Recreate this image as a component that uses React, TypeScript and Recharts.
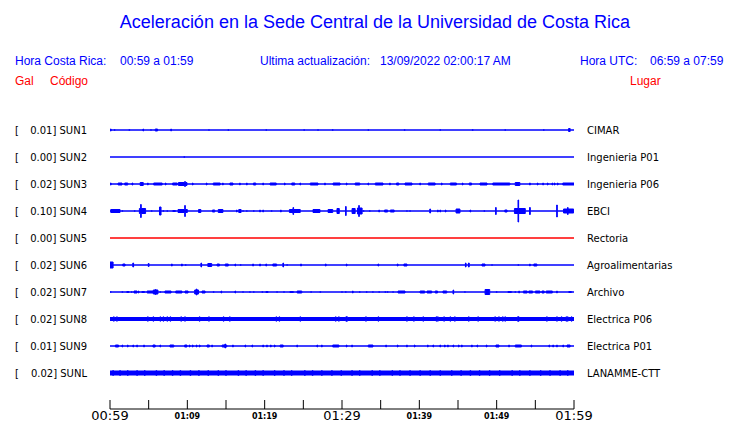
import React from "react";
import { ComposedChart, XAxis, YAxis, Area } from "recharts";

// ---- station table ----
const GAL = ["0.01", "0.00", "0.02", "0.10", "0.00", "0.02", "0.02", "0.02", "0.01", "0.02"];
const CODES = ["SUN1", "SUN2", "SUN3", "SUN4", "SUN5", "SUN6", "SUN7", "SUN8", "SUN9", "SUNL"];
const PLACES = [
  "CIMAR",
  "Ingenieria P01",
  "Ingenieria P06",
  "EBCI",
  "Rectoria",
  "Agroalimentarias",
  "Archivo",
  "Electrica P06",
  "Electrica P01",
  "LANAMME-CTT",
];

// ---- time axis (minutes after 00:59) ----
const TICK_MINUTES = [0, 5, 10, 15, 20, 25, 30, 35, 40, 45, 50, 55, 60];
const TICK_LABELS = ["00:59", "", "01:09", "", "01:19", "", "01:29", "", "01:39", "", "01:49", "", "01:59"];
const MAJOR_LABELS = ["00:59", "01:29", "01:59"];

// ---- background noise level of each trace ----
const NOISE = [0, 0, 0, 0, 0, 0, 0, 2, 0, 2.5];

// ---- bursts per trace: [minute, duration (min), half amplitude] ----
const EV_SUN1 = [
  [0.1, 0.1, 1.5], [0.6, 0, 1], [2.5, 0, 1], [4.3, 0, 1.5], [5.3, 0, 1], [6.0, 0.3, 1.5],
  [7.9, 0, 1.5], [12.8, 0, 1], [15.3, 0, 1], [20.2, 0, 1], [25.1, 0, 1], [26.9, 0, 1],
  [28.8, 0, 1], [33.4, 0, 1], [38.1, 0, 1], [42.7, 0, 1], [46.9, 0, 1], [51.1, 0, 1],
  [56.1, 0, 1], [59.4, 0.2, 2],
];
const EV_SUN2 = [[9.6, 0, 1]];
const EV_SUN3 = [
  [0.1, 0.1, 1.5], [1.3, 0.5, 1.5], [2.1, 0.4, 1.5], [2.9, 0.1, 1.5], [4.1, 0.4, 2], [4.9, 0, 1.5],
  [6.2, 1.1, 1.5], [7.2, 0, 1.5], [8.4, 0.6, 1.5], [9.4, 1.1, 2], [9.7, 0, 3], [10.7, 0, 1.5],
  [12.5, 0, 1.5], [13.8, 0.9, 1.5], [14.6, 0, 1.5], [15.7, 0.4, 1.5], [16.8, 0, 1.5], [17.7, 0, 1.5],
  [18.7, 0.3, 1.5], [19.8, 0, 1.5], [21.1, 0.8, 1.5], [22.6, 0, 1.5], [23.7, 0.4, 1.5], [24.6, 0, 1.5],
  [26.4, 1.0, 1.5], [27.8, 0, 1.5], [29.3, 0.9, 1.5], [30.6, 0, 1.5], [32.0, 0.6, 1.5], [33.4, 0, 1.5],
  [34.8, 1.0, 1.5], [36.2, 0, 1.5], [37.2, 0.3, 1.5], [38.6, 0.9, 1.5], [40.1, 0, 1.5], [41.6, 0.9, 1.5],
  [42.9, 0, 1.5], [44.4, 0.8, 1.5], [45.6, 0, 1.5], [46.6, 0.3, 1.5], [48.3, 0.9, 1.5], [50.6, 2.2, 1.5],
  [52.7, 0.6, 2], [54.3, 0.1, 1.5], [55.3, 0, 1.5], [56.0, 0, 1.5], [56.6, 0, 1.5], [57.2, 0, 1.5],
  [57.5, 0, 1.5], [57.9, 0, 1.5], [59.3, 1.5, 1.5],
];
const EV_SUN4 = [
  [0.7, 1.2, 2], [1.6, 0, 1], [3.2, 0, 1], [4.2, 0.8, 3], [4.0, 0, 7], [5.4, 0, 1], [6.5, 0.2, 4.5],
  [6.9, 0, 1], [7.4, 0, 1], [8.3, 0.4, 1], [9.4, 1.2, 2], [9.7, 0, 6], [11.6, 0.3, 2], [13.4, 0.3, 1.5],
  [14.3, 0.6, 2], [16.4, 0, 1.5], [16.8, 0.3, 2], [17.2, 0, 1], [17.7, 0, 1], [18.6, 0, 1],
  [19.4, 0, 1.5], [19.8, 0, 1.5], [20.9, 0, 1], [22.1, 0, 1.5], [23.9, 1.4, 2], [23.7, 0, 4],
  [26.7, 0.9, 2], [28.5, 0.6, 2], [29.5, 0.3, 3], [30.5, 0, 5], [31.5, 0.4, 3], [32.3, 0.6, 3.5],
  [32.2, 0, 6], [32.8, 0, 1], [33.6, 0, 1], [34.8, 0, 1.5], [35.7, 0.4, 1.5], [36.5, 0.5, 1.5],
  [38.4, 0, 1], [38.8, 0, 1], [41.4, 0.1, 2.5], [42.4, 0, 1.5], [42.7, 0, 1.5], [43.4, 0, 1.5],
  [45.0, 0.5, 2.5], [46.6, 0, 1.5], [48.4, 0, 1], [49.9, 0, 4], [51.2, 0.3, 1.5], [53.0, 1.4, 3],
  [52.8, 0, 11.5], [54.3, 0.1, 4], [57.8, 0, 6.5], [59.3, 1.3, 2.5], [59.2, 0, 4],
];
const EV_SUN5: number[][] = [];
const EV_SUN6 = [
  [0.2, 0.4, 3.5], [1.8, 0.3, 1.5], [3.0, 0.1, 2.5], [5.0, 0.1, 2], [8.0, 0.1, 1.5], [9.3, 0.1, 1.5],
  [9.8, 0, 1], [11.8, 0, 2.5], [12.9, 0.5, 2], [14.0, 0.3, 1.5], [15.1, 0.4, 1.5], [16.2, 0, 1.5],
  [16.9, 0, 1], [18.5, 0.1, 1.5], [19.4, 0.1, 1.5], [20.2, 0.1, 1.5], [21.3, 0.5, 1.5], [22.4, 0, 2.5],
  [22.9, 0, 1], [24.7, 0.1, 1.5], [27.9, 0.1, 1.5], [30.6, 0, 1.5], [34.7, 0.1, 1.5], [37.2, 0.1, 1.5],
  [38.2, 0.4, 1.5], [46.0, 0, 2.5], [46.4, 0.1, 2.5], [48.3, 0.4, 1.5], [49.4, 0, 1], [52.8, 0, 1],
  [54.3, 0, 1.5], [55.0, 0.4, 1.5],
];
const EV_SUN7 = [
  [0.1, 0, 1], [1.6, 0, 1], [2.3, 0.3, 1], [2.8, 0, 1], [3.3, 0.4, 1.5], [3.7, 0, 1.5], [4.3, 0.4, 1],
  [5.2, 0.8, 1.5], [5.9, 0.6, 2.5], [5.9, 0, 3], [6.5, 0, 1], [7.5, 0.8, 1.5], [8.9, 0.8, 1.5],
  [9.9, 0.4, 1.5], [11.2, 0.5, 2.5], [11.2, 0, 3.5], [12.1, 0.4, 1.5], [13.4, 0, 1], [14.4, 0, 1.5],
  [16.2, 0, 1.5], [17.2, 0, 1], [18.1, 0, 1], [18.6, 0, 1], [19.7, 0, 1], [20.3, 0.3, 1], [21.6, 0, 1],
  [22.5, 0, 1], [23.5, 0.5, 1], [24.5, 0.6, 1.5], [26.0, 0, 1], [27.2, 0, 1], [30.0, 0, 1], [30.5, 0, 1],
  [31.4, 0, 1.5], [32.3, 0, 1], [33.2, 0, 1], [34.0, 0, 1], [34.8, 0, 1], [35.6, 0, 1], [35.9, 0, 1],
  [36.6, 0, 1], [37.7, 0.9, 1.5], [40.4, 0.6, 1.5], [41.3, 0.6, 1.5], [42.2, 0.3, 1.5], [43.3, 0.5, 1.5],
  [44.4, 0, 2.5], [45.9, 0, 1], [48.8, 0.6, 3], [50.0, 0, 1], [51.7, 0.5, 1], [52.4, 0, 1],
  [52.9, 0, 1.5], [53.7, 0.5, 1.5], [54.4, 0.5, 1.5], [55.3, 0.6, 1.5], [56.0, 0.3, 1.5],
  [56.8, 0.8, 1.5], [57.8, 0, 1.5], [59.5, 0.4, 1],
];
const EV_SUN8 = [
  [0.5, 0, 2.7], [0.9, 0, 2.7], [4.9, 0, 2.7], [5.6, 0, 2.7], [6.5, 0, 2.7], [6.9, 0, 2.7],
  [7.4, 0, 2.7], [7.8, 0, 2.7], [9.2, 0, 2.7], [9.7, 0, 2.7], [11.6, 0, 2.7], [12.8, 0, 2.7],
  [14.7, 0, 2.7], [15.5, 0, 2.7], [21.5, 0, 2.7], [21.9, 0, 2.7], [24.6, 0, 2.7], [29.2, 0, 2.7],
  [29.6, 0, 2.7], [30.6, 0.2, 2.7], [33.1, 0, 2.7], [34.7, 0, 2.7], [38.4, 0, 2.7], [39.3, 0, 2.7],
  [40.5, 0, 2.7], [42.2, 0, 2.7], [42.4, 0, 2.7], [43.2, 0, 2.7], [44.0, 0, 2.7], [44.6, 0, 2.7],
  [46.4, 0, 2.7], [47.6, 0, 2.7], [49.8, 0, 2.7], [50.3, 0, 2.7], [50.8, 0, 2.7], [51.1, 0, 2.7],
  [52.8, 0.2, 2.7], [56.5, 0, 2.7], [57.8, 0, 2.7], [58.4, 0, 2.7], [59.0, 0, 2.7], [59.2, 0, 2.7],
  [59.7, 0, 2.7],
];
const EV_SUN9 = [
  [0.9, 0.4, 1.5], [1.6, 0, 1.5], [2.3, 0, 1.5], [3.0, 0, 1.5], [3.5, 0, 1.5], [4.4, 0, 1.5],
  [5.7, 0.3, 1.5], [6.5, 0, 1.5], [8.0, 0.5, 1.5], [9.8, 0.3, 1.5], [10.3, 0, 1.5], [10.7, 0, 1.5],
  [11.2, 0, 1.5], [11.6, 0, 1.5], [12.7, 0.3, 1.5], [13.2, 0, 1.5], [14.8, 0.6, 1.5], [14.9, 0, 2.5],
  [15.9, 0, 1.5], [17.5, 0, 1.5], [18.4, 0, 1.5], [19.8, 0, 1.5], [20.3, 0, 1.5], [20.8, 0, 1.5],
  [21.3, 0, 1.5], [22.2, 0.4, 1.5], [24.2, 0, 1.5], [26.8, 0, 1.5], [27.4, 0, 1.5], [29.2, 0.8, 1.5],
  [30.6, 0, 1.5], [31.3, 0, 1.5], [33.7, 0.6, 1.5], [35.7, 0, 1.5], [37.2, 0, 1.5], [38.4, 0, 1.5],
  [39.4, 0, 1.5], [41.1, 0, 1.5], [41.8, 0, 1.5], [42.7, 0, 1.5], [43.3, 0, 1.5], [43.7, 0, 1.5],
  [44.4, 0, 1.5], [45.1, 0, 1.5], [45.5, 0, 1.5], [46.8, 0, 1.5], [47.5, 0, 1.5], [48.7, 0, 1.5],
  [50.1, 0.4, 1.5], [51.6, 0, 1.5], [52.8, 0.8, 1.5], [54.5, 0, 1.5], [56.8, 0, 1.5], [57.3, 0, 1.5],
  [57.8, 0, 1.5], [58.6, 0, 1.5], [59.3, 0.4, 1.5],
];
const EV_SUNL = [
  [0.4, 0, 3], [1.3, 0, 3], [2.3, 0, 3], [3.5, 0, 3], [4.5, 0, 3], [6.0, 0, 3], [7.0, 0, 3],
  [8.1, 0, 3], [9.1, 0, 3], [10.4, 0, 3], [11.5, 0, 3], [12.7, 0, 3], [14.0, 0, 3], [15.0, 0, 3],
  [16.6, 0, 3], [17.6, 0, 3], [18.8, 0, 3], [19.8, 0, 3], [21.3, 0, 3], [22.5, 0, 3], [23.5, 0, 3],
  [25.2, 0, 3], [26.2, 0, 3], [27.4, 0, 3], [28.7, 0, 3], [29.9, 0, 3], [31.3, 0, 3], [32.3, 0, 3],
  [33.9, 0, 3], [34.9, 0, 3], [36.5, 0, 3], [37.5, 0, 3], [38.8, 0, 3], [40.1, 0, 3], [41.4, 0, 3],
  [42.7, 0, 3], [44.2, 0, 3], [45.4, 0, 3], [46.6, 0, 3], [47.8, 0, 3], [49.1, 0, 3], [50.4, 0, 3],
  [52.0, 0, 3], [53.0, 0, 3], [54.3, 0, 3], [55.7, 0, 3], [56.9, 0, 3], [58.2, 0, 3], [59.2, 0, 3],
];
const EVENTS = [EV_SUN1, EV_SUN2, EV_SUN3, EV_SUN4, EV_SUN5, EV_SUN6, EV_SUN7, EV_SUN8, EV_SUN9, EV_SUNL];

// ---- styling / layout ----
const BLUE = "#0000FF";
const RED = "#FF0000";
const TRACE_COLORS = CODES.map((c) => (c === "SUN5" ? RED : BLUE));
const ROW_PX = 27;
const N = CODES.length;
const ROW_BASES = CODES.map((_, i) => N - i); // SUN1 at top
const LABEL_FONT = "'DejaVu Sans', sans-serif";
const HEAD_FONT = "'Liberation Sans', Arial, sans-serif";

function buildTrace(base: number, noise: number, events: number[][]) {
  const MIN_HALF = 0.04;
  const ivs = events.map(([t, w, a]) => {
    const hw = Math.max(w / 2, MIN_HALF);
    return [Math.max(0, t - hw), Math.min(60, t + hw), a];
  });
  const cutSet = new Set<number>([0, 60]);
  ivs.forEach(([s, e]) => {
    cutSet.add(+s.toFixed(4));
    cutSet.add(+e.toFixed(4));
  });
  const cuts = Array.from(cutSet).sort((a, b) => a - b);
  const pts: { t: number; r: [number, number] }[] = [];
  for (let k = 0; k < cuts.length - 1; k++) {
    const c0 = cuts[k];
    const c1 = cuts[k + 1];
    const mid = (c0 + c1) / 2;
    let amp = noise;
    ivs.forEach(([s, e, a]) => {
      if (mid >= s && mid <= e && a > amp) amp = a;
    });
    const h = Math.max(amp - 0.5, 0) / ROW_PX; // stroke adds half a pixel on each side
    pts.push({ t: c0, r: [base - h, base + h] });
    pts.push({ t: c1, r: [base - h, base + h] });
  }
  return pts;
}

const TRACES = CODES.map((code, i) => ({
  code,
  color: TRACE_COLORS[i],
  data: buildTrace(ROW_BASES[i], NOISE[i], EVENTS[i]),
}));

const LeftTick = (props: any) => {
  const { y, payload } = props;
  const i = N - payload.value;
  if (i < 0 || i >= N) return null;
  return (
    <g fontFamily={LABEL_FONT} fontSize={10} fill="#000">
      <text x={15} y={y} dy="0.35em" textAnchor="start">[</text>
      <text x={87} y={y} dy="0.35em" textAnchor="end">{`${GAL[i]}] ${CODES[i]}`}</text>
    </g>
  );
};

const RightTick = (props: any) => {
  const { y, payload } = props;
  const i = N - payload.value;
  if (i < 0 || i >= N) return null;
  return (
    <text x={587} y={y} dy="0.35em" fontFamily={LABEL_FONT} fontSize={10} fill="#000">
      {PLACES[i]}
    </text>
  );
};

const XTick = (props: any) => {
  const { x, y, payload } = props;
  const idx = TICK_MINUTES.indexOf(payload.value);
  const label = idx >= 0 ? TICK_LABELS[idx] : "";
  const major = MAJOR_LABELS.includes(label);
  return (
    <g>
      <line x1={x} x2={x} y1={y} y2={y - 9} stroke="#000" strokeWidth={1} />
      {label && (
        <text
          x={x}
          y={major ? y + 11 : y + 10}
          textAnchor="middle"
          fontFamily={LABEL_FONT}
          fontSize={major ? 13 : 8}
          fontWeight={major ? "normal" : "bold"}
          fill="#000"
        >
          {label}
        </text>
      )}
    </g>
  );
};

export default function App() {
  return (
    <div style={{ position: "absolute", left: 0, top: 0, width: 740, height: 423, background: "#fff" }}>
      <ComposedChart width={740} height={423} margin={{ top: 103, right: 0, bottom: 0, left: 0 }}>
        <XAxis
          type="number"
          dataKey="t"
          domain={[0, 60]}
          ticks={TICK_MINUTES}
          allowDataOverflow
          height={14}
          tickSize={0}
          tickMargin={0}
          tickLine={false}
          axisLine={{ stroke: "#000", strokeWidth: 1 }}
          tick={XTick}
          interval={0}
        />
        <YAxis
          yAxisId="left"
          type="number"
          domain={[-1 / 3, N + 1]}
          ticks={ROW_BASES}
          allowDataOverflow
          width={110}
          axisLine={false}
          tickLine={false}
          tick={LeftTick}
          interval={0}
        />
        <YAxis
          yAxisId="right"
          orientation="right"
          type="number"
          domain={[-1 / 3, N + 1]}
          ticks={ROW_BASES}
          allowDataOverflow
          width={166}
          axisLine={false}
          tickLine={false}
          tick={RightTick}
          interval={0}
        />
        {TRACES.map((tr) => (
          <Area
            key={tr.code}
            yAxisId="left"
            data={tr.data}
            dataKey="r"
            type="linear"
            stroke={tr.color}
            strokeWidth={1}
            fill={tr.color}
            fillOpacity={1}
            dot={false}
            activeDot={false}
            isAnimationActive={false}
          />
        ))}
      </ComposedChart>
      <svg width={740} height={423} style={{ position: "absolute", left: 0, top: 0, pointerEvents: "none" }}>
        <g fontFamily={HEAD_FONT}>
          <text x={375} y={28} textAnchor="middle" fontSize={18} fill={BLUE}>
            Aceleración en la Sede Central de la Universidad de Costa Rica
          </text>
          <text x={15} y={65} fontSize={12} fill={BLUE}>Hora Costa Rica:</text>
          <text x={120} y={65} fontSize={12} fill={BLUE}>00:59 a 01:59</text>
          <text x={260} y={65} fontSize={12} fill={BLUE}>Ultima actualización:</text>
          <text x={380} y={65} fontSize={12} fill={BLUE}>13/09/2022 02:00:17 AM</text>
          <text x={580} y={65} fontSize={12} fill={BLUE}>Hora UTC:</text>
          <text x={650} y={65} fontSize={12} fill={BLUE}>06:59 a 07:59</text>
          <text x={15} y={85} fontSize={12} fill={RED}>Gal</text>
          <text x={50} y={85} fontSize={12} fill={RED}>Código</text>
          <text x={630} y={85} fontSize={12} fill={RED}>Lugar</text>
        </g>
      </svg>
    </div>
  );
}
